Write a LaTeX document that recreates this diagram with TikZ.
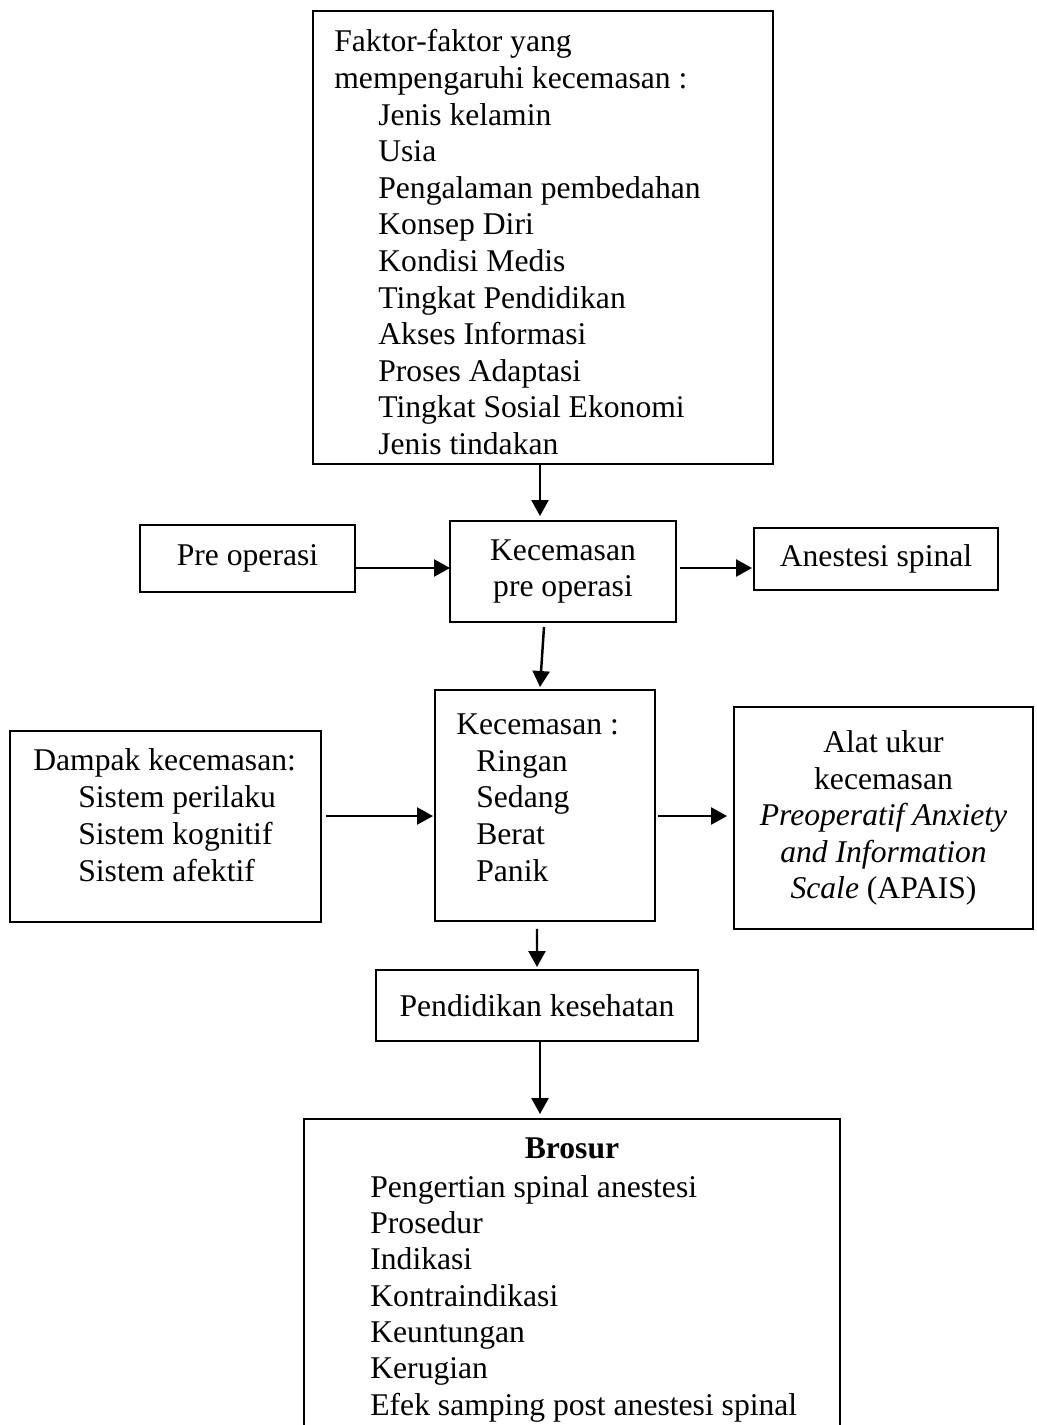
\documentclass[tikz,border=0pt]{standalone}
\usepackage{fontspec}
\setmainfont{Liberation Serif}
\usetikzlibrary{arrows.meta}
\begin{document}
\begin{tikzpicture}[>={Triangle[length=0.32cm,width=0.34cm]}, x=0.02cm, y=-0.02cm,
        kotak/.style={draw, line width=1.1pt, inner sep=0pt, outer sep=0pt},
        teks/.style={anchor=base west, inner sep=0pt},
        panah/.style={->, line width=1.4pt},
        font=\fontsize{18}{20.8}\selectfont]
                \clip (0,0) rectangle (1036,1425);
                % kotak-kotak
                \node[kotak, minimum width=9.2cm, minimum height=9.06cm] (faktor) at (543,237.5) {};
                \node[kotak, minimum width=4.3cm, minimum height=1.34cm] (pre) at (247.5,558.5) {Pre operasi};
                \node[kotak, minimum width=4.52cm, minimum height=2.02cm, align=center] (kpo) at (563,571.5) {Kecemasan\\pre operasi};
                \node[kotak, minimum width=4.88cm, minimum height=1.24cm] (anest) at (876,559) {Anestesi spinal};
                \node[kotak, minimum width=6.22cm, minimum height=3.82cm] (dampak) at (165.5,826.5) {};
                \node[kotak, minimum width=4.4cm, minimum height=4.62cm] (kec) at (545,805.5) {};
                \node[kotak, minimum width=5.98cm, minimum height=4.44cm, align=center] (alat) at (883.5,818)
                    {Alat ukur\\kecemasan\\\textit{Preoperatif Anxiety}\\\textit{and Information}\\\textit{Scale} (APAIS)};
                \node[kotak, minimum width=6.44cm, minimum height=1.42cm] (pend) at (537,1005.5) {Pendidikan kesehatan};
                \node[kotak, minimum width=10.72cm, minimum height=6.42cm] (brosur) at (572,1279.5) {};
                % isi kotak
                \node[teks] (f1) at (334,52) {Faktor-faktor yang};
                \node[teks] (f2) at (334,88.6) {mempengaruhi kecemasan :};
                \foreach \y/\t [count=\i from 3] in {125.2/Jenis kelamin, 161.8/Usia, 198.4/Pengalaman pembedahan,
                    235/Konsep Diri, 271.6/Kondisi Medis, 308.2/Tingkat Pendidikan, 344.8/Akses Informasi,
                    381.4/Proses Adaptasi, 418/Tingkat Sosial Ekonomi, 454.6/Jenis tindakan}
                    {
                        \node[teks] (f\i) at (378,\y) {\t};
                    }
                \node[teks] (d1) at (33,770) {Dampak kecemasan:};
                \foreach \y/\t [count=\i from 2] in {807/Sistem perilaku, 844/Sistem kognitif, 881/Sistem afektif}
                    {
                        \node[teks] (d\i) at (78,\y) {\t};
                    }
                \node[teks] (k1) at (456,734.5) {Kecemasan :};
                \foreach \y/\t [count=\i from 2] in {771/Ringan, 807.7/Sedang, 844.3/Berat, 881/Panik}
                    {
                        \node[teks] (k\i) at (476,\y) {\t};
                    }
                \node[anchor=base, inner sep=0pt] (b0) at (572,1158) {\textbf{Brosur}};
                \foreach \y/\t [count=\i] in {1197/Pengertian spinal anestesi, 1233.3/Prosedur, 1269.6/Indikasi,
                    1306/Kontraindikasi, 1342.3/Keuntungan, 1378.6/Kerugian, 1415/Efek samping post anestesi spinal}
                    {
                        \node[teks] (b\i) at (370,\y) {\t};
                    }
                % panah
                \draw[panah, shorten >=0.1cm] ([xshift=-0.06cm]faktor.south) -- ([xshift=-0.06cm]faktor.south |- kpo.north);
                \draw[panah] ([yshift=0.07cm]kpo.west -| pre.east) -- ([yshift=0.07cm]kpo.west);
                \draw[panah] ([xshift=0.08cm,yshift=0.07cm]kpo.east) -- ([xshift=-0.04cm,yshift=0.07cm]kpo.east -| anest.west);
                \draw[panah] ([xshift=-0.38cm,yshift=-0.1cm]kpo.south) -- ([xshift=-0.1cm,yshift=0.06cm]kec.north);
                \draw[panah] ([xshift=0.1cm,yshift=0.21cm]dampak.east) -- ([xshift=-0.04cm,yshift=0.21cm]dampak.east -| kec.west);
                \draw[panah] ([xshift=0.06cm,yshift=0.04cm]alat.west -| kec.east) -- ([xshift=-0.14cm,yshift=0.04cm]alat.west);
                \draw[panah] ([xshift=-0.16cm,yshift=-0.16cm]kec.south) -- ([yshift=0.06cm]pend.north);
                \draw[panah, shorten >=0.1cm] ([xshift=0.06cm]pend.south) -- ([xshift=0.06cm]pend.south |- brosur.north);
\end{tikzpicture}
\end{document}
